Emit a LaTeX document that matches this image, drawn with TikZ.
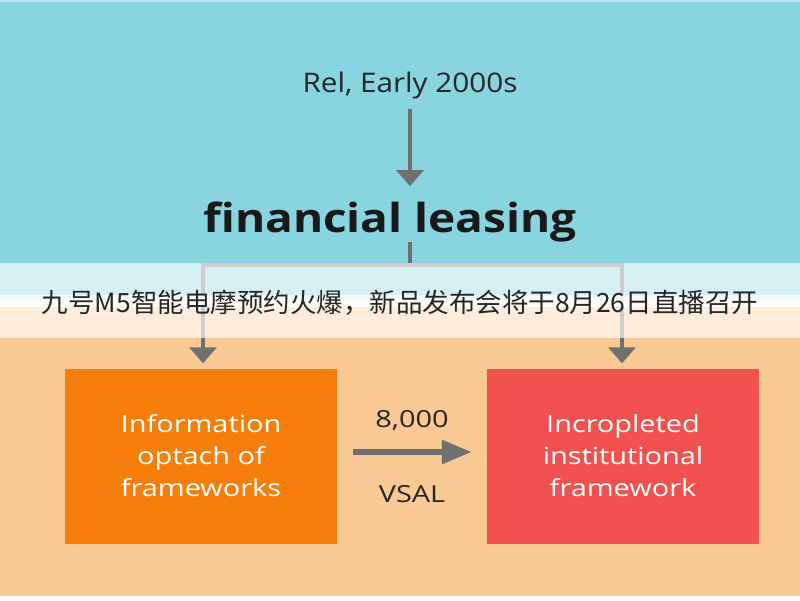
\documentclass[tikz,border=0pt]{standalone}
\usepackage{fontspec}
\setmainfont{Open Sans}
\newfontfamily\cjk{Noto Sans CJK SC}
\newfontfamily\erafont[FakeStretch=1.1]{Open Sans}
\newfontfamily\headfont[FakeStretch=1.15]{Open Sans}
\newfontfamily\boxfont[FakeStretch=1.23]{Open Sans}
\usetikzlibrary{positioning,arrows.meta}
\definecolor{sky}{HTML}{88D4DF}
\definecolor{peach}{HTML}{F9C994}
\definecolor{boxorange}{HTML}{F57F0A}
\definecolor{boxred}{HTML}{F2524F}
\definecolor{arrowgray}{HTML}{707070}
\tikzset{
 t/.style
  = {font=\boxfont\fontsize{23.5}{28}\selectfont, text=black!85, inner sep=0pt},
 e/.style
  = {font=\erafont\fontsize{27}{30}\selectfont, text=black!85, inner sep=0pt, anchor=base},
 h/.style
  = {font=\headfont\fontsize{40}{44}\selectfont\bfseries, text=black!90, inner sep=0pt, anchor=base},
 b/.style
  = {rectangle, minimum width=272, minimum height=175, text=white,
     align=center, font=\boxfont\fontsize{23.5}{32}\selectfont, inner sep=0pt},
 l/.style
  = {draw=arrowgray, line width=3.5, -{Triangle[length=16, width=27]}},
 ll/.style
  = {draw=arrowgray, line width=3.5},
 lm/.style
  = {draw=arrowgray, line width=6, -{Triangle[length=30, width=23]}},
}

\begin{document}
\begin{tikzpicture}[x=1pt,y=-1pt]
    \useasboundingbox (0,0) rectangle (800,600);
    % background
    \fill[sky] (0,0) rectangle (800,301);
    \fill[peach] (0,301) rectangle (800,600);
    \fill[white, opacity=0.4] (0,0) rectangle (800,2);
    \fill[white] (0,596) rectangle (800,600);

    \node [e] (era) at (410,92) {Rel, Early 2000s};
    \node [h] (lease) at (390,232) {financial leasing};
    \node [b, fill=boxorange] (info) at (201,456) {Information\\ optach of\\ frameworks};
    \node [b, fill=boxred] (inst) at (623,456) {Incropleted\\ institutional\\ framework};
    \coordinate (split) at (410,265);

    \path [l, shorten <=10, shorten >=15] (era.south) -- (era.south |- lease.north);
    \path [ll] (lease.south -| split) -- (split);
    \path [l, shorten >=5] (split) -| ([xshift=2]info.north);
    \path [l, shorten >=5] (split) -| ([xshift=-1]inst.north);
    \path [lm, shorten <=16, shorten >=15] ([yshift=4]info.east) -- ([yshift=4]inst.west)
      node[midway, above=18pt, t]{8,000}
      node[midway, below=30pt, t]{VSAL};

    % caption band
    \fill[white, opacity=0.65] (0,263) rectangle (800,338);
    \fill[white, opacity=0.75] (0,295) rectangle (800,307);
    \node [font=\cjk\fontsize{26.5}{30}\selectfont, text=black!85] (title) at (400,303)
      {九号M5智能电摩预约火爆，新品发布会将于8月26日直播召开};
\end{tikzpicture}
\end{document}
